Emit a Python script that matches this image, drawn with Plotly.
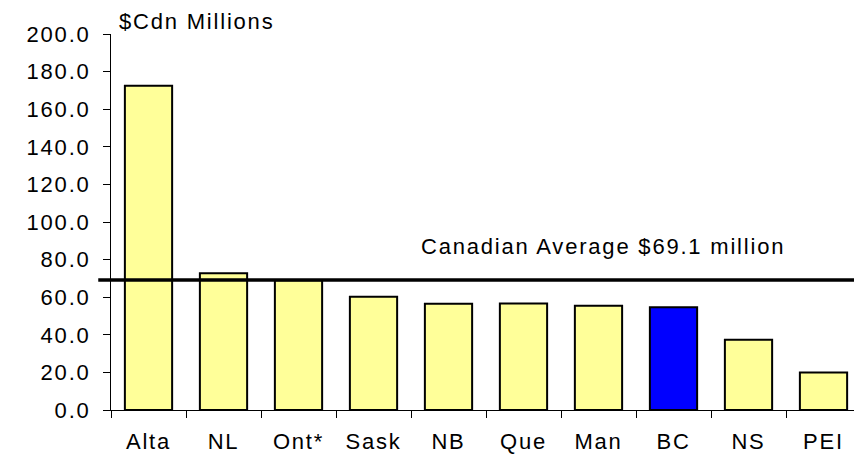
import plotly.graph_objects as go

provinces = ["Alta", "NL", "Ont*", "Sask", "NB", "Que", "Man", "BC", "NS", "PEI"]
values = [172.5, 72.7, 69.0, 60.3, 56.5, 56.7, 55.5, 54.6, 37.4, 20.0]
highlight = "BC"
canadian_average = 69.1
y_ticks = [0, 20, 40, 60, 80, 100, 120, 140, 160, 180, 200]

colors = ["#0000FF" if p == highlight else "#FFFF99" for p in provinces]

FONT = "Arial, Liberation Sans, sans-serif"
FS = 22


def spaced(t):
    return f'<span style="letter-spacing:1.8px">{t}</span>'


fig = go.Figure()
fig.add_trace(go.Bar(
    x=provinces, y=values,
    marker=dict(color=colors, line=dict(color="black", width=2)),
    width=0.63,
))

fig.add_shape(type="line", xref="paper", yref="y",
              x0=-0.017, x1=0.993, y0=canadian_average, y1=canadian_average,
              line=dict(color="black", width=3.5), layer="above")

fig.add_annotation(text=spaced("Canadian Average $69.1 million"), xref="paper", yref="y",
                   x=0.41, y=87.2, xanchor="left", yanchor="middle",
                   showarrow=False, font=dict(family=FONT, size=FS, color="black"))
fig.add_annotation(text=spaced("$Cdn Millions"), xref="paper", yref="paper",
                   x=0.008, y=1.032, xanchor="left", yanchor="middle",
                   showarrow=False, font=dict(family=FONT, size=FS, color="black"))

fig.update_layout(
    width=854, height=453,
    margin=dict(l=103, r=1, t=26, b=51),
    plot_bgcolor="white", paper_bgcolor="white",
    showlegend=False,
    font=dict(family=FONT, size=FS, color="black"),
    xaxis=dict(
        type="category", showline=True, linecolor="black", linewidth=1,
        ticks="outside", tickson="boundaries", ticklen=7, tickcolor="black",
        showgrid=False, ticklabelstandoff=12, automargin=False,
        tickmode="array", tickvals=provinces,
        ticktext=[spaced(p) for p in provinces],
    ),
    yaxis=dict(
        range=[0, 200], tickvals=y_ticks,
        ticktext=[spaced(f"{v:.1f}") for v in y_ticks],
        showline=True, linecolor="black", linewidth=1,
        ticks="outside", ticklen=7, tickcolor="black",
        showgrid=False, zeroline=False, ticklabelstandoff=8, automargin=False,
    ),
)

fig.write_html("out.html")
